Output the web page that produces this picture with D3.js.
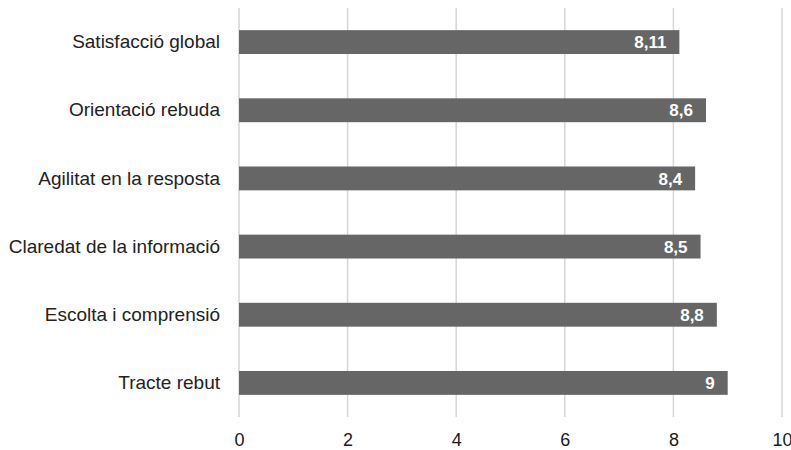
<!DOCTYPE html>
<html>
<head>
<meta charset="utf-8">
<script src="https://cdn.jsdelivr.net/npm/d3@7"></script>
<style>
  html, body { margin: 0; padding: 0; background: #fff; }
  svg { display: block; font-family: "Liberation Sans", Arial, Helvetica, sans-serif; }
</style>
</head>
<body>
<svg id="chart" width="791" height="450"></svg>
<script>
// Valoració per aspecte (escala 0–10)
const categories = [
  "Satisfacció global",
  "Orientació rebuda",
  "Agilitat en la resposta",
  "Claredat de la informació",
  "Escolta i comprensió",
  "Tracte rebut"
];
const values = [8.11, 8.6, 8.4, 8.5, 8.8, 9];
const valueLabels = ["8,11", "8,6", "8,4", "8,5", "8,8", "9"];
const tickValues = [0, 2, 4, 6, 8, 10];

const svg = d3.select("#chart");
const plotLeft = 239, plotRight = 782, plotTop = 8, plotBottom = 417;

const x = d3.scaleLinear().domain([0, 10]).range([plotLeft, plotRight]);
const y = d3.scaleBand()
  .domain(categories)
  .range([plotTop, plotBottom])
  .paddingInner(0.65)
  .paddingOuter(0.325);

// vertical grid lines
svg.append("g")
  .selectAll("line")
  .data(tickValues)
  .join("line")
  .attr("x1", d => x(d)).attr("x2", d => x(d))
  .attr("y1", plotTop).attr("y2", plotBottom)
  .attr("stroke", "#d6d6d6")
  .attr("stroke-width", 1.5);

// x axis tick labels
const xAxis = d3.axisBottom(x).tickValues(tickValues).tickSize(0).tickPadding(0);
const gx = svg.append("g").attr("transform", `translate(0, ${plotBottom + 16})`).call(xAxis);
gx.select(".domain").remove();
gx.selectAll("text")
  .attr("font-size", 18)
  .attr("fill", "#1a1a1a")
  .attr("font-family", "Liberation Sans, Arial, sans-serif");

// y axis category labels
const yAxis = d3.axisLeft(y).tickSize(0).tickPadding(19);
const gy = svg.append("g").attr("transform", `translate(${plotLeft}, 0)`).call(yAxis);
gy.select(".domain").remove();
gy.selectAll("text")
  .attr("font-size", 19)
  .attr("fill", "#222")
  .attr("font-family", "Liberation Sans, Arial, sans-serif");

// bars
const rows = categories.map((c, i) => ({ c, v: values[i], label: valueLabels[i] }));
svg.append("g")
  .selectAll("rect")
  .data(rows)
  .join("rect")
  .attr("x", x(0))
  .attr("y", d => y(d.c))
  .attr("width", d => x(d.v) - x(0))
  .attr("height", y.bandwidth())
  .attr("fill", "#666666");

// value labels inside bar ends
svg.append("g")
  .selectAll("text")
  .data(rows)
  .join("text")
  .attr("x", d => x(d.v) - 13)
  .attr("y", d => y(d.c) + y.bandwidth() / 2)
  .attr("dy", "0.36em")
  .attr("text-anchor", "end")
  .attr("font-size", 17)
  .attr("font-weight", "bold")
  .attr("fill", "#ffffff")
  .text(d => d.label);
</script>
</body>
</html>
